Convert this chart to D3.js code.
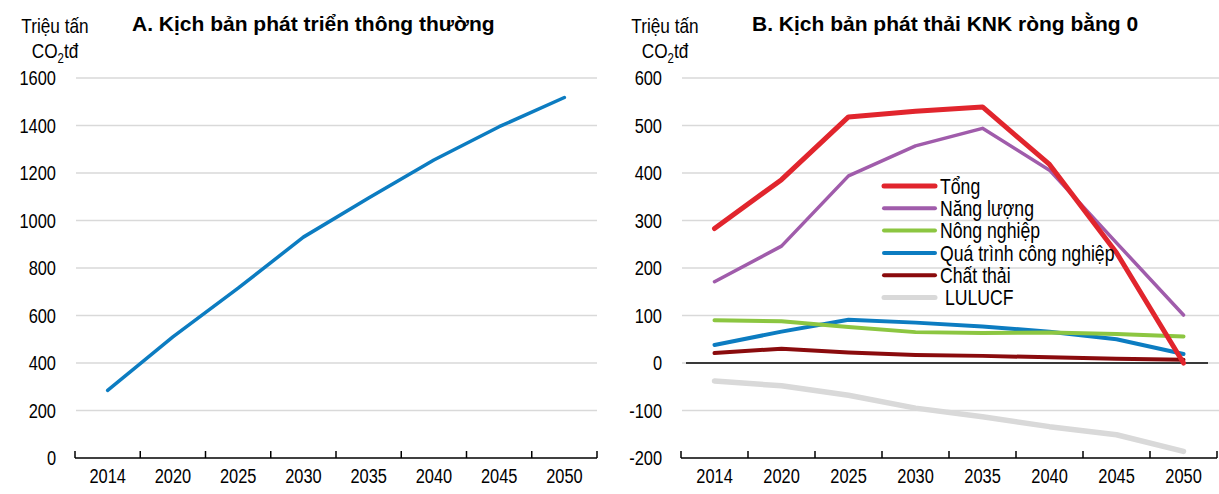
<!DOCTYPE html>
<html>
<head>
<meta charset="utf-8">
<script src="https://cdn.jsdelivr.net/npm/d3@7/dist/d3.min.js"></script>
<style>
  html, body { margin: 0; padding: 0; background: #fff; }
  svg text { font-family: "Liberation Sans Narrow", "Arial Narrow", "Liberation Sans", Arial, sans-serif; fill: #000; }
  svg text.title { font-family: "Liberation Sans", Arial, sans-serif; font-weight: bold; font-size: 21px; }
</style>
</head>
<body>
<svg id="chart" width="1219" height="494"></svg>
<script>
// Years shown on both panels
const years = ["2014", "2020", "2025", "2030", "2035", "2040", "2045", "2050"];

// Panel A: business-as-usual emissions (million tonnes CO2e)
const bauTotal = [285, 510, 715, 930, 1095, 1255, 1395, 1518];

// Panel B: net-zero scenario by sector (million tonnes CO2e)
const nzTotal      = [283, 386, 518, 530, 539, 418, 232, 0];
const nzEnergy     = [171, 246, 394, 457, 494, 406, 253, 101];
const nzAgri       = [90, 88, 76, 65, 63, 64, 61, 56];
const nzIndustry   = [38, 66, 91, 85, 77, 66, 50, 19];
const nzWaste      = [21, 30, 22, 17, 15, 12, 9, 7];
const nzLulucf     = [-38, -48, -68, -95, -113, -134, -151, -186];

const seriesNames  = ["Tổng", "Năng lượng", "Nông nghiệp", "Quá trình công nghiệp", "Chất thải", " LULUCF"];

const yTicksA = [0, 200, 400, 600, 800, 1000, 1200, 1400, 1600];
const yTicksB = [-200, -100, 0, 100, 200, 300, 400, 500, 600];

const svg = d3.select("#chart");
const NARROW = 0.82;

// squeeze text horizontally to a condensed look
function condense(sel) {
  sel.each(function () {
    const w = this.getComputedTextLength();
    d3.select(this).attr("textLength", w * NARROW).attr("lengthAdjust", "spacingAndGlyphs");
  });
}

const seriesB = [
  { name: seriesNames[0], values: nzTotal,    color: "#E1252D", width: 5 },
  { name: seriesNames[1], values: nzEnergy,   color: "#A05CAB", width: 3.5 },
  { name: seriesNames[2], values: nzAgri,     color: "#8CC641", width: 4 },
  { name: seriesNames[3], values: nzIndustry, color: "#0C7CC1", width: 4 },
  { name: seriesNames[4], values: nzWaste,    color: "#8A0B0D", width: 4 },
  { name: seriesNames[5], values: nzLulucf,   color: "#D9D9D9", width: 5.5 }
];

function drawPanel(opts) {
  const g = svg.append("g");
  const x = d3.scaleBand().domain(years).range([opts.x0, opts.x1]).padding(0);
  const y = d3.scaleLinear().domain(opts.domain).range([458, 78]);

  // gridlines
  g.append("g").selectAll("line").data(opts.ticks.filter(t => t !== opts.domain[0]))
    .join("line")
    .attr("x1", opts.gridX0).attr("x2", opts.gridX1)
    .attr("y1", d => y(d)).attr("y2", d => y(d))
    .attr("stroke", "#D9D9D9").attr("stroke-width", 1.5);

  // y labels
  g.append("g").selectAll("text").data(opts.ticks)
    .join("text")
    .attr("x", opts.labelX).attr("y", d => y(d))
    .attr("dy", "0.35em")
    .attr("text-anchor", "end")
    .style("font-size", "20px")
    .text(d => d)
    .call(condense);

  // zero reference line (panel B)
  if (opts.zeroLine) {
    g.append("line")
      .attr("x1", opts.zeroLine[0]).attr("x2", opts.zeroLine[1])
      .attr("y1", y(0)).attr("y2", y(0))
      .attr("stroke", "#000").attr("stroke-width", 1.3);
  }

  // category axis at bottom: line + boundary ticks, labels centred in bands
  const axisY = y(opts.domain[0]);
  const xAxis = d3.axisBottom(x).tickSize(0).tickPadding(0);
  const ax = g.append("g").attr("transform", `translate(0,${axisY})`).call(xAxis);
  ax.attr("font-family", null).attr("font-size", null);
  ax.select(".domain").remove();
  ax.selectAll("text")
    .attr("dy", null).attr("y", 25)
    .style("font-size", "20px")
    .call(condense);

  g.append("line")
    .attr("x1", opts.x0).attr("x2", opts.x1)
    .attr("y1", axisY).attr("y2", axisY)
    .attr("stroke", "#000").attr("stroke-width", 1.5);
  const bounds = years.map(d => x(d)).concat([x(years[years.length - 1]) + x.bandwidth()]);
  g.append("g").selectAll("line").data(bounds)
    .join("line")
    .attr("x1", d => d).attr("x2", d => d)
    .attr("y1", axisY).attr("y2", axisY - 7)
    .attr("stroke", "#000").attr("stroke-width", 1.5);

  const line = d3.line()
    .x((d, i) => x(years[i]) + x.bandwidth() / 2)
    .y(d => y(d));

  // series lines, total drawn last so it sits on top
  opts.series.slice().reverse().forEach(s => {
    g.append("path")
      .datum(s.values)
      .attr("d", line)
      .attr("fill", "none")
      .attr("stroke", s.color)
      .attr("stroke-width", s.width)
      .attr("stroke-linejoin", "round")
      .attr("stroke-linecap", "round");
  });

  // title
  g.append("text").attr("class", "title")
    .attr("x", opts.titleX).attr("y", 31)
    .text(opts.title);

  // unit label, condensed around its centre
  const ug = g.append("g").attr("transform", `translate(${opts.unitX},0) scale(${NARROW},1)`);
  ug.append("text").attr("text-anchor", "middle").style("font-size", "21px")
    .attr("x", 0).attr("y", 33).text("Triệu tấn");
  const u2 = ug.append("text").attr("text-anchor", "middle").style("font-size", "21px")
    .attr("x", 0).attr("y", 58);
  u2.append("tspan").text("CO");
  u2.append("tspan").attr("dy", 5).style("font-size", "14px").text("2");
  u2.append("tspan").attr("dy", -5).text("tđ");

  return { x, y, g };
}

drawPanel({
  x0: 75, x1: 597, gridX0: 76, gridX1: 597,
  domain: [0, 1600], ticks: yTicksA, labelX: 56,
  series: [{ name: "BAU", values: bauTotal, color: "#0C7CC1", width: 3.5 }],
  title: "A. Kịch bản phát triển thông thường", titleX: 132,
  unitX: 55
});

drawPanel({
  x0: 681, x1: 1217, gridX0: 682, gridX1: 1219,
  domain: [-200, 600], ticks: yTicksB, labelX: 662,
  zeroLine: [686, 1208],
  series: seriesB,
  title: "B. Kịch bản phát thải KNK ròng bằng 0", titleX: 752,
  unitX: 665
});

// legend for panel B
const legend = svg.append("g");
seriesB.forEach((s, i) => {
  const ly = 186 + i * 22.3;
  legend.append("line")
    .attr("x1", 884).attr("x2", 935)
    .attr("y1", ly).attr("y2", ly)
    .attr("stroke", s.color)
    .attr("stroke-width", i === 0 || i === 5 ? 5 : 4)
    .attr("stroke-linecap", "round");
  legend.append("text")
    .attr("x", 940).attr("y", ly).attr("dy", "0.36em")
    .style("font-size", "21.5px")
    .style("white-space", "pre")
    .text(s.name)
    .call(condense);
});
</script>
</body>
</html>
